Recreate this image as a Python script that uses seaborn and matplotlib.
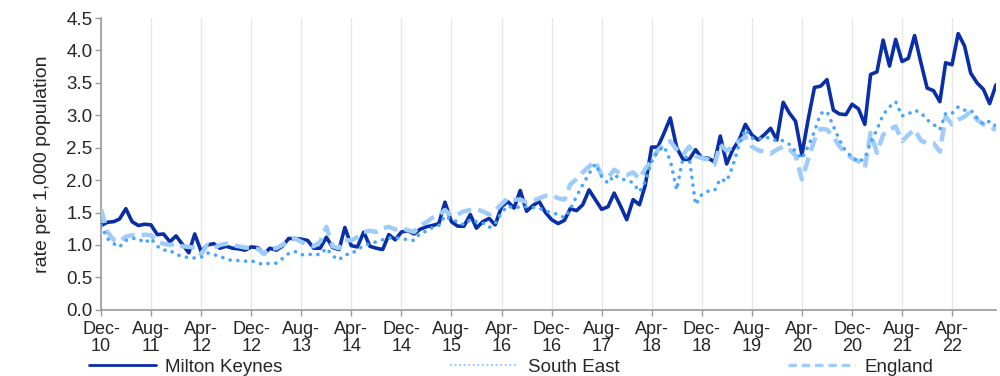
import matplotlib
matplotlib.use("Agg")
import matplotlib.pyplot as plt
import pandas as pd
import seaborn as sns

# monthly rates per 1,000 population, Dec-10 .. Nov-22
start_month = "2010-12-01"

milton_keynes = [
    1.30, 1.35, 1.36, 1.40, 1.56, 1.36, 1.30, 1.32, 1.31, 1.16, 1.17, 1.05,
    1.14, 1.01, 0.88, 1.17, 0.90, 1.00, 1.02, 0.95, 0.98, 0.95, 0.94, 0.92,
    0.97, 0.96, 0.86, 0.95, 0.92, 0.98, 1.10, 1.10, 1.09, 1.07, 0.95, 0.95,
    1.12, 0.96, 0.93, 1.27, 0.99, 0.97, 1.20, 0.98, 0.95, 0.93, 1.16, 1.08,
    1.20, 1.22, 1.17, 1.24, 1.28, 1.30, 1.33, 1.66, 1.36, 1.29, 1.29, 1.47,
    1.26, 1.36, 1.41, 1.31, 1.59, 1.67, 1.57, 1.84, 1.52, 1.61, 1.67, 1.50,
    1.39, 1.33, 1.38, 1.56, 1.53, 1.62, 1.85, 1.70, 1.55, 1.59, 1.80, 1.60,
    1.39, 1.70, 1.62, 1.92, 2.51, 2.51, 2.73, 2.96, 2.50, 2.32, 2.32, 2.47,
    2.34, 2.34, 2.28, 2.68, 2.25, 2.47, 2.62, 2.86, 2.70, 2.62, 2.70, 2.80,
    2.62, 3.20, 3.03, 2.91, 2.39, 2.93, 3.43, 3.45, 3.55, 3.08, 3.02, 3.01,
    3.17, 3.10, 2.86, 3.63, 3.67, 4.16, 3.76, 4.17, 3.83, 3.88, 4.23, 3.81,
    3.42, 3.38, 3.21, 3.81, 3.78, 4.26, 4.07, 3.65, 3.50, 3.40, 3.18, 3.47,
]

south_east = [
    1.30, 1.10, 1.02, 0.97, 1.07, 1.10, 1.10, 1.03, 1.10, 0.98, 0.92, 0.92,
    0.85, 0.83, 0.80, 0.80, 0.81, 0.88, 0.85, 0.83, 0.78, 0.76, 0.76, 0.75,
    0.76, 0.72, 0.70, 0.72, 0.72, 0.79, 0.87, 0.90, 0.85, 0.85, 0.86, 0.85,
    0.95, 0.83, 0.77, 0.85, 0.86, 0.93, 0.99, 1.02, 1.05, 1.08, 1.11, 1.11,
    1.10, 1.08, 1.07, 1.18, 1.21, 1.27, 1.30, 1.45, 1.39, 1.36, 1.31, 1.39,
    1.36, 1.34, 1.27, 1.33, 1.50, 1.60, 1.57, 1.59, 1.59, 1.58, 1.57, 1.52,
    1.50, 1.47, 1.42, 1.55, 1.75, 1.93, 2.10, 2.25, 2.06, 1.95, 2.08, 2.02,
    2.00, 1.96, 1.82, 1.98, 2.28, 2.45, 2.52, 2.30, 1.85, 2.35, 2.35, 1.62,
    1.78, 1.83, 1.84, 2.02, 1.98, 2.22, 2.55, 2.78, 2.65, 2.63, 2.66, 2.65,
    2.60, 2.61, 2.55, 2.44, 2.33, 2.52, 2.75, 3.03, 3.06, 2.83, 2.62, 2.44,
    2.36, 2.28, 2.34, 2.58, 2.78, 3.01, 3.13, 3.21, 2.99, 3.02, 3.08, 3.04,
    2.93, 2.86, 2.78, 3.03, 3.03, 3.13, 3.08, 3.08, 2.96, 2.86, 2.91, 2.83,
]

england = [
    1.55, 1.20, 1.08, 1.05, 1.13, 1.15, 1.14, 1.16, 1.15, 1.05, 1.02, 1.00,
    1.02, 0.98, 0.97, 0.96, 0.86, 1.00, 0.95, 1.00, 1.02, 1.00, 0.98, 0.96,
    0.96, 0.94, 0.86, 0.95, 0.95, 1.00, 1.07, 1.10, 1.05, 1.00, 0.98, 1.05,
    1.28, 0.98, 0.95, 1.08, 1.07, 1.12, 1.20, 1.22, 1.20, 1.26, 1.28, 1.24,
    1.26, 1.23, 1.20, 1.30, 1.35, 1.42, 1.46, 1.54, 1.45, 1.47, 1.52, 1.54,
    1.55, 1.52, 1.47, 1.53, 1.63, 1.72, 1.70, 1.70, 1.66, 1.68, 1.72, 1.76,
    1.77, 1.72, 1.70, 1.93, 2.02, 2.12, 2.21, 2.29, 2.07, 2.04, 2.16, 2.10,
    2.08, 2.12, 2.02, 2.17, 2.30, 2.46, 2.56, 2.60, 2.47, 2.39, 2.52, 2.37,
    2.34, 2.32, 2.24, 2.55, 2.45, 2.52, 2.60, 2.67, 2.52, 2.46, 2.44, 2.41,
    2.47, 2.52, 2.47, 2.38, 2.01, 2.32, 2.62, 2.79, 2.78, 2.67, 2.52, 2.42,
    2.34, 2.29, 2.19, 2.73, 2.42, 2.70, 2.78, 2.83, 2.60, 2.70, 2.78, 2.61,
    2.57, 2.57, 2.44, 2.98, 2.86, 2.93, 2.98, 3.06, 2.93, 2.86, 2.83, 2.77,
]

y_ticks = [0.0, 0.5, 1.0, 1.5, 2.0, 2.5, 3.0, 3.5, 4.0, 4.5]


def main():
    sns.set_style("white")
    plt.rcParams["font.family"] = ["Liberation Sans", "DejaVu Sans"]

    months = pd.date_range(start_month, periods=len(milton_keynes), freq="MS")
    df = pd.DataFrame({
        "month": months,
        "Milton Keynes": milton_keynes,
        "South East": south_east,
        "England": england,
    })

    fig, ax = plt.subplots(figsize=(10, 3.76), dpi=100)
    fig.subplots_adjust(left=0.101, right=0.996, bottom=0.176, top=0.952)

    # x ticks every 8 months, two-line labels like "Dec-\n10"
    tick_months = months[::8]
    for t in tick_months:
        ax.axvline(t, color="#e8e8e8", lw=1, zorder=0)

    sns.lineplot(data=df, x="month", y="Milton Keynes", ax=ax, color="#0a2ea8",
                 lw=2.6, label="Milton Keynes", zorder=3)
    sns.lineplot(data=df, x="month", y="England", ax=ax, color="#9fccfa",
                 lw=3.2, label="England", zorder=4)
    ax.lines[-1].set_linestyle((0, (3.2, 1.6)))
    sns.lineplot(data=df, x="month", y="South East", ax=ax, color="#4aa6fb",
                 lw=2.6, label="South East", zorder=5)
    ax.lines[-1].set_linestyle((0, (0.05, 2.1)))
    ax.lines[-1].set_dash_capstyle("round")

    ax.set_xlim(months[0], months[-1])
    ax.set_ylim(0, 4.5)
    ax.set_yticks(y_ticks)
    ax.set_yticklabels([f"{v:.1f}" for v in y_ticks], fontsize=13.5)
    ax.set_xticks(tick_months)
    ax.set_xticklabels([t.strftime("%b-\n%y") for t in tick_months], fontsize=13,
                       linespacing=1.0)
    ax.set_xlabel("")
    ax.set_ylabel("rate per 1,000 population", fontsize=14, labelpad=11)

    for side in ["top", "right"]:
        ax.spines[side].set_visible(False)
    for side in ["left", "bottom"]:
        ax.spines[side].set_color("#999999")
        ax.spines[side].set_linewidth(1.2)
    ax.tick_params(axis="both", length=4, width=1, color="#999999", direction="out",
                   bottom=True, left=True, pad=2)
    ax.tick_params(axis="x", pad=4)

    handles, labels = ax.get_legend_handles_labels()
    order = [labels.index(n) for n in ["Milton Keynes", "South East", "England"]]
    ax.get_legend().remove()
    leg = fig.legend([handles[i] for i in order], [labels[i] for i in order],
                     loc="lower left", bbox_to_anchor=(0.081, -0.02, 0.86, 0.06),
                     ncol=3, mode="expand", frameon=False, fontsize=13.5,
                     handlelength=3.6, handletextpad=0.5, borderaxespad=0)
    # thinner lines in the legend keys
    key_widths = [2.0, 1.6, 2.4]
    for h, w in zip(leg.legend_handles, key_widths):
        h.set_linewidth(w)
    leg.legend_handles[1].set_linestyle((0, (0.05, 2.0)))
    leg.legend_handles[1].set_alpha(0.6)
    leg.legend_handles[2].set_linestyle((0, (2.5, 1.5)))

    fig.savefig("out.png", dpi=100)


if __name__ == "__main__":
    main()
